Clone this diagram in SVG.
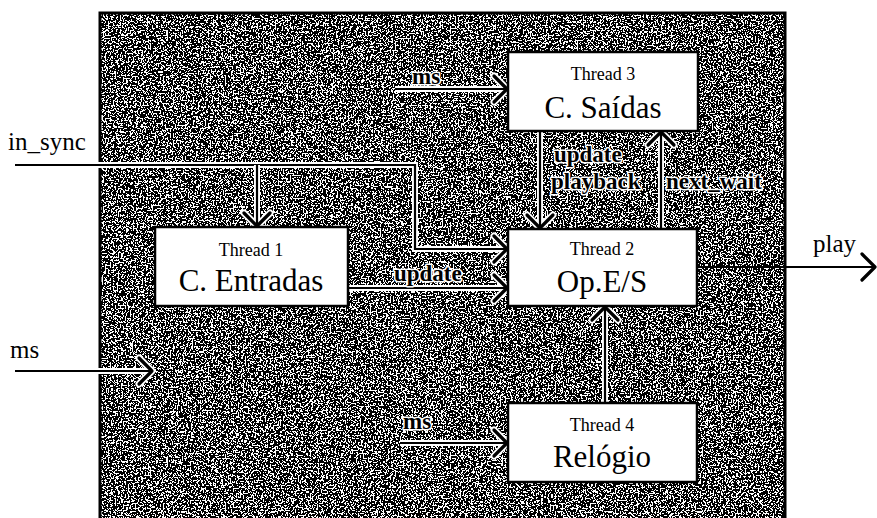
<svg xmlns="http://www.w3.org/2000/svg" width="877" height="518" viewBox="0 0 877 518">
<style>
  text { font-family: 'Liberation Serif', 'DejaVu Serif', serif; fill: #000; }
  .big { font-size: 31px; text-anchor: middle; }
  .small { font-size: 18px; text-anchor: middle; }
  .ext { font-size: 25px; }
  .lbl { font-size: 23px; font-weight: bold; stroke: #fff; stroke-width: 3px; paint-order: stroke; stroke-linejoin: round; }
  .box { fill: #fff; stroke: #000; stroke-width: 2.5; }
  .halo { fill: none; stroke: #fff; stroke-width: 6; marker-end: url(#ahalo); }
  .line { fill: none; stroke: #000; stroke-width: 2.2; marker-end: url(#arrow); }
</style>
<defs>
  <marker id="arrow" markerUnits="userSpaceOnUse" viewBox="-16 -16 32 32" refX="0" refY="0" markerWidth="32" markerHeight="32" orient="auto" overflow="visible">
    <path d="M-13,-13 L0,0 L-13,13" fill="none" stroke="#000" stroke-width="3.2" stroke-linejoin="round" stroke-linecap="round"/>
  </marker>
  <marker id="ahalo" markerUnits="userSpaceOnUse" viewBox="-16 -16 32 32" refX="0" refY="0" markerWidth="32" markerHeight="32" orient="auto" overflow="visible">
    <path d="M-13,-13 L0,0 L-13,13" fill="none" stroke="#fff" stroke-width="7" stroke-linejoin="round" stroke-linecap="round"/>
  </marker>
  <filter id="dither" x="0" y="0" width="100%" height="100%" color-interpolation-filters="sRGB">
    <feTurbulence type="fractalNoise" baseFrequency="0.6" numOctaves="2" seed="7" result="n"/>
    <feColorMatrix in="n" type="saturate" values="0" result="g"/>
    <feComponentTransfer in="g" result="t">
      <feFuncR type="discrete" tableValues="0 0 0 0 0 0 0 0 0 0 0 0 0 0 0 0 0 1 1 1 1 1 1 1 1 1 1 1 1 1 1 1"/>
      <feFuncG type="discrete" tableValues="0 0 0 0 0 0 0 0 0 0 0 0 0 0 0 0 0 1 1 1 1 1 1 1 1 1 1 1 1 1 1 1"/>
      <feFuncB type="discrete" tableValues="0 0 0 0 0 0 0 0 0 0 0 0 0 0 0 0 0 1 1 1 1 1 1 1 1 1 1 1 1 1 1 1"/>
      <feFuncA type="linear" slope="0" intercept="1"/>
    </feComponentTransfer>
    <feComposite in="t" in2="SourceGraphic" operator="in"/>
  </filter>
</defs>

<g id="background">
  <rect x="100" y="13" width="685" height="510" fill="#555" filter="url(#dither)"/>
  <rect x="100" y="13" width="685" height="510" fill="none" stroke="#000" stroke-width="3"/>
</g>

<g id="connectors">
  <path class="halo" d="M15,165 H415 V249 H507"/>
  <path class="line" d="M15,165 H415 V249 H507"/>
  <path class="halo" d="M257,165 V226"/>
  <path class="line" d="M257,165 V226"/>
  <path class="halo" d="M348,288 H507"/>
  <path class="line" d="M348,288 H507"/>
  <path class="halo" d="M395,89 H507"/>
  <path class="line" d="M395,89 H507"/>
  <path class="halo" d="M540,132 V228"/>
  <path class="line" d="M540,132 V228"/>
  <path class="halo" d="M661,229 V132"/>
  <path class="line" d="M661,229 V132"/>
  <path class="line" d="M697,267 H875"/>
  <path class="halo" d="M605,403 V307"/>
  <path class="line" d="M605,403 V307"/>
  <path class="halo" d="M400,443 H507"/>
  <path class="line" d="M400,443 H507"/>
  <path class="halo" d="M15,371 H152"/>
  <path class="line" d="M15,371 H152"/>
</g>

<g id="labels" font-family="'Liberation Serif', serif">
  <text class="ext" x="8" y="150">in_sync</text>
  <text class="ext" x="10" y="358">ms</text>
  <text class="ext" x="813" y="252">play</text>
  <text class="lbl" x="412" y="84">ms</text>
  <text class="lbl" x="394" y="281">update</text>
  <text class="lbl" x="554" y="162">update</text>
  <text class="lbl" x="551" y="189">playback</text>
  <text class="lbl" x="666" y="189">next_wait</text>
  <text class="lbl" x="403" y="429">ms</text>
</g>

<g id="thread3">
  <rect class="box" x="508" y="52" width="190" height="79"/>
  <text class="small" x="603" y="80">Thread 3</text>
  <text class="big" x="603" y="118">C. Saídas</text>
</g>
<g id="thread1">
  <rect class="box" x="155" y="227" width="193" height="79"/>
  <text class="small" x="251" y="256">Thread 1</text>
  <text class="big" x="251" y="291">C. Entradas</text>
</g>
<g id="thread2">
  <rect class="box" x="508" y="229" width="189" height="77"/>
  <text class="small" x="602" y="255">Thread 2</text>
  <text class="big" x="602" y="292">Op.E/S</text>
</g>
<g id="thread4">
  <rect class="box" x="508" y="403" width="189" height="79"/>
  <text class="small" x="602" y="431">Thread 4</text>
  <text class="big" x="602" y="467">Relógio</text>
</g>
</svg>
